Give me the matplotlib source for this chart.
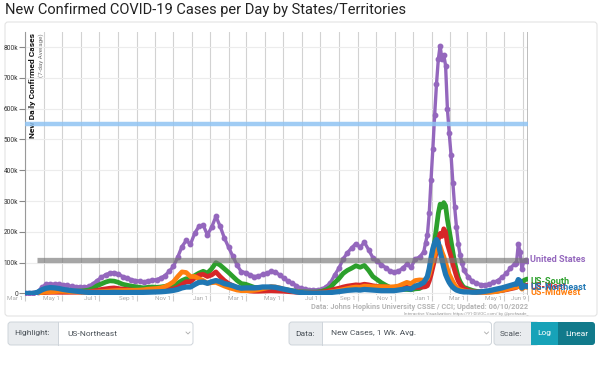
import numpy as np
import pandas as pd
import matplotlib.pyplot as plt
from matplotlib.patches import FancyBboxPatch, Rectangle
from matplotlib.transforms import ScaledTranslation

# sample dates: weekly, every 3 days around the Omicron peak and at the very end
dates = pd.DatetimeIndex(
    list(pd.date_range('2020-03-01', '2021-12-19', freq='7D'))
    + list(pd.date_range('2021-12-22', '2022-02-23', freq='3D'))
    + list(pd.date_range('2022-03-02', '2022-05-18', freq='7D'))
    + list(pd.date_range('2022-05-21', '2022-06-08', freq='3D')))

# new cases per day, 7-day average, in thousands
us = [0, 0.1, 0.8, 6, 20, 30, 31, 30, 30, 28, 26, 23, 22, 21, 21, 23, 31, 42, 52, 61,
      66, 68, 63, 55, 51, 45, 42, 40, 37, 41, 43, 45, 50, 58, 72, 88, 118, 152, 172, 160,
      195, 218, 222, 190,
      215, 250, 218, 180, 150, 120, 92, 70, 68, 60, 55, 56, 62, 65, 72, 70, 60, 50, 40, 33,
      25, 17, 15, 12, 11, 12, 14, 22, 35, 60, 82, 112, 132, 148, 162, 150, 166, 142, 116, 104,
      94, 84, 73, 70, 72, 82, 95, 85, 112, 118, 135,
      165, 190, 260, 370, 470, 580, 680, 760, 805, 760, 775, 740, 600, 520, 450, 360, 280, 215,
      160, 125, 100, 75,
      55, 40, 33, 29, 28, 30, 36, 42, 52, 65, 82, 97, 100, 160, 135, 78, 105, 110, 104]
south = [0, 0, 0.1, 1, 3, 5, 6, 6, 6, 6.5, 7, 7, 7.5, 8, 9, 11, 16, 25, 31, 37,
         41, 40, 36, 30, 27, 24, 22, 20, 18, 20, 21, 20, 21, 23, 26, 28, 33, 42, 48, 45,
         58, 66, 72, 66,
         80, 100, 92, 80, 68, 55, 42, 32, 30, 25, 20, 19, 18, 18, 18, 17, 15, 13, 11, 9,
         7, 5, 5, 4.5, 4.5, 5, 7, 12, 20, 35, 48, 65, 75, 82, 90, 85, 91, 75, 55, 45,
         35, 27, 20, 16, 14, 13, 13, 12, 15, 16, 25,
         32, 40, 60, 90, 130, 170, 215, 260, 290, 280, 295, 285, 240, 205, 170, 135, 100, 75,
         52, 38, 28, 20,
         15, 10, 7, 6, 5.5, 5.5, 6, 8, 10, 14, 19, 25, 28, 40, 38, 30, 42, 45, 47]
west = [0, 0.05, 0.2, 1, 2.5, 3.5, 3.8, 3.7, 3.8, 3.8, 3.7, 3.8, 4, 4.2, 4.5, 5.5, 7.5, 10, 13, 15,
        17, 18, 16, 14, 13, 11, 10, 9, 8, 8.5, 8.5, 9, 10, 11, 13, 15, 20, 29, 38, 38,
        50, 60, 62, 55,
        60, 70, 55, 42, 32, 25, 17, 11, 10, 8, 7, 7, 7.5, 8, 8.5, 8, 7.5, 7, 6, 5,
        4, 3, 3, 3, 3.2, 3.5, 4.5, 7, 10, 14, 17, 21, 24, 26, 28, 27, 30, 28, 25, 23,
        22, 21, 19, 18, 18, 19, 20, 17, 20, 20, 21,
        22, 25, 40, 60, 85, 110, 140, 175, 195, 185, 210, 200, 160, 140, 120, 95, 75, 55,
        40, 30, 22, 16,
        10, 7, 5, 4.5, 4.5, 5, 6, 8, 10, 12, 15, 18, 20, 40, 30, 20, 26, 27, 26]
midwest = [0, 0, 0.1, 0.8, 3, 5, 5, 6, 7, 7, 6.5, 5.5, 5, 4.5, 4.2, 4.2, 4.5, 5, 6, 7,
           8, 9, 9.5, 9.5, 9.5, 10, 10.5, 11, 12, 14, 15, 16, 18, 22, 29, 38, 55, 70, 68, 55,
           55, 48, 42, 33,
           35, 36, 30, 24, 19, 15, 11, 9, 9, 9, 10, 12, 15, 18, 22, 21, 18, 14, 11, 8,
           6, 4, 3, 2, 1.8, 1.8, 2, 3, 5, 7, 10, 13, 16, 19, 21, 20, 24, 23, 22, 22,
           22, 22, 21, 22, 24, 30, 36, 32, 42, 44, 43,
           45, 48, 62, 85, 105, 125, 140, 150, 153, 135, 120, 100, 80, 62, 50, 38, 28, 20,
           15, 12, 10, 8,
           6, 4.5, 3.5, 3.5, 3.5, 4, 5, 7, 10, 13, 17, 20, 20, 28, 22, 14, 20, 21, 20]
northeast = [0, 0.05, 0.5, 4, 12, 17, 19, 18, 16, 13, 11, 9, 7.5, 6, 4.5, 3.5, 3, 3, 3, 3,
             3.2, 3.5, 3.2, 3, 3, 3, 3, 3.2, 3.5, 4, 4.5, 5, 5.5, 6.5, 8, 10, 13, 18, 21, 21,
             29, 36, 37, 33,
             38, 42, 38, 32, 29, 25, 20, 17, 18, 18, 18, 19, 21, 21, 21, 20, 17, 14, 11, 8,
             5, 3, 2, 1.5, 1.2, 1.2, 1.5, 2, 3, 4.5, 6, 8, 10, 11, 12, 11, 13, 12, 11, 10,
             9, 9, 9, 9, 11, 13, 16, 14, 24, 28, 36,
             45, 55, 80, 115, 145, 165, 175, 165, 135, 110, 85, 62, 48, 36, 27, 20, 15, 11,
             9, 7, 6, 5,
             5, 4, 4, 5, 7, 9, 12, 15, 18, 22, 26, 30, 30, 45, 40, 18, 25, 24, 22]

names = ['United States', 'US-South', 'US-West', 'US-Midwest', 'US-Northeast']
colors = ['#9467bd', '#2ca02c', '#d62728', '#ff7f0e', '#1f77b4']
values = [us, south, west, midwest, northeast]
label_y = [110, 39, 22, 3, 19.5]   # where the end labels sit (thousands)

ref_blue = 550000
ref_gray = 110000
ref_gray_start = '2020-03-21'

start, end = pd.Timestamp('2020-03-01'), pd.Timestamp('2022-06-09')
xtick_dates = ['2020-03-01', '2020-05-01', '2020-07-01', '2020-09-01', '2020-11-01',
               '2021-01-01', '2021-03-01', '2021-05-01', '2021-07-01', '2021-09-01',
               '2021-11-01', '2022-01-01', '2022-03-01', '2022-05-01', '2022-06-09']
xtick_labels = ['Mar 1', 'May 1', 'Jul 1', 'Sep 1', 'Nov 1', 'Jan 1', 'Mar 1', 'May 1',
                'Jul 1', 'Sep 1', 'Nov 1', 'Jan 1', 'Mar 1', 'May 1', 'Jun 9']
ytick_vals = [0, 100000, 200000, 300000, 400000, 500000, 600000, 700000, 800000]
ytick_labels = ['0', '100k', '200k', '300k', '400k', '500k', '600k', '700k', '800k']

W, H = 600, 384
plt.rcParams['font.family'] = ['Roboto', 'DejaVu Sans']
fig = plt.figure(figsize=(6, 3.84), dpi=100)
fig.patch.set_facecolor('white')

# page background: title, panel, credits, controls (pixel coords)
bg = fig.add_axes([0, 0, 1, 1])
bg.set_xlim(0, W)
bg.set_ylim(H, 0)
bg.axis('off')
bg.text(5, 10, 'New Confirmed COVID-19 Cases per Day by States/Territories',
        fontsize=10.5, color='#222222', va='center', ha='left')
bg.add_patch(FancyBboxPatch((5, 22), 592, 294, boxstyle='round,pad=0,rounding_size=3',
                            fc='white', ec='#e3e3e3', lw=0.8))
bg.text(528, 307, 'Data: Johns Hopkins University CSSE / CCI; Updated: 06/10/2022',
        fontsize=5.3, fontweight='bold', color='#b4b4b4', ha='right', va='center')
bg.text(528, 313.5, 'Interactive Visualization: https://91-DIVOC.com/ by @profwade_',
        fontsize=3.2, color='#9a9a9a', ha='right', va='center')


def control(x0, x_split, x1, label, value, chevron):
    bg.add_patch(FancyBboxPatch((x0, 322), x_split - x0 + 4, 23,
                                boxstyle='round,pad=0,rounding_size=3',
                                fc='#e9ecef', ec='none'))
    bg.add_patch(Rectangle((x_split, 322), x1 - x_split, 23, fc='white', ec='none'))
    bg.add_patch(FancyBboxPatch((x0, 322), x1 - x0, 23,
                                boxstyle='round,pad=0,rounding_size=3',
                                fc='none', ec='#ced4da', lw=0.7))
    bg.plot([x_split, x_split], [322, 345], color='#ced4da', lw=0.7)
    bg.text(x0 + 6, 333.5, label, fontsize=6, color='#495057', va='center')
    bg.text(x_split + 9, 333.5, value, fontsize=6, color='#495057', va='center')
    bg.plot([chevron - 2, chevron, chevron + 2], [332, 334, 332], color='#aaaaaa', lw=0.6)


control(8, 58, 193, 'Highlight:', 'US-Northeast', 188)
control(289, 322, 491.5, 'Data:', 'New Cases, 1 Wk. Avg.', 486.5)

# scale buttons
bg.add_patch(FancyBboxPatch((494, 322), 45, 23, boxstyle='round,pad=0,rounding_size=3',
                            fc='#e9ecef', ec='#ced4da', lw=0.7))
bg.add_patch(FancyBboxPatch((550, 322), 45, 23, boxstyle='round,pad=0,rounding_size=3',
                            fc='#117a8b', ec='none'))
bg.add_patch(Rectangle((531, 322), 27, 23, fc='#17a2b8', ec='none'))
bg.text(500, 333.5, 'Scale:', fontsize=6, color='#495057', va='center')
bg.text(544.5, 333.5, 'Log', fontsize=6, color='white', va='center', ha='center')
bg.text(576.5, 333.5, 'Linear', fontsize=6, color='white', va='center', ha='center')

# chart
ax = fig.add_axes([25 / W, 1 - 295.3 / H, 503 / W, 263 / H])
ax.set_facecolor('none')

ax.plot(dates, np.array(us) * 1000, color=colors[0], lw=2.4, marker='o', ms=3.2,
        zorder=3)
for name, vals, col in zip(names[1:], values[1:], colors[1:]):
    lw = 3.8 if name == 'US-Northeast' else 3.4
    ax.plot(dates, np.array(vals) * 1000, color=col, lw=lw, zorder=5 if lw > 3.5 else 4,
            solid_capstyle='round', solid_joinstyle='round')

ax.axhline(ref_blue, color='#90c4f3', lw=3.2, alpha=0.85, zorder=6)
ax.hlines(ref_gray, pd.Timestamp(ref_gray_start), end, color='#777777', lw=3.8,
          alpha=0.65, zorder=6)
ax.axvline(end, color='#aaaaaa', lw=1.8, zorder=2)

ax.set_xlim(start, end)
ax.set_ylim(-6000, 848000)
ax.set_xticks(pd.to_datetime(xtick_dates))
ax.set_xticklabels(xtick_labels)
ax.set_xticks(pd.date_range('2020-03-01', '2022-06-01', freq='MS'), minor=True)
ax.set_yticks(ytick_vals)
ax.set_yticklabels(ytick_labels)
ax.grid(which='both', axis='x', color='#d2d2d2', lw=0.8, zorder=1)
ax.grid(which='major', axis='y', color='#ececec', lw=0.8, zorder=1)
ax.tick_params(axis='x', which='major', length=4.5, color='#cccccc', labelsize=4.5,
               labelcolor='#aaaaaa', pad=-4.2)
ax.tick_params(axis='x', which='minor', length=0)
ax.tick_params(axis='y', length=4, color='#888888', labelsize=4.7, labelcolor='#333333',
               pad=1)
for lbl in ax.get_xticklabels():
    lbl.set_horizontalalignment('right')
    lbl.set_transform(lbl.get_transform() + ScaledTranslation(-2 / 100, 0, fig.dpi_scale_trans))
for s in ['top', 'right', 'bottom']:
    ax.spines[s].set_visible(False)
ax.spines['left'].set_color('#999999')
ax.spines['left'].set_linewidth(0.8)

# axis title inside the chart
bg.text(32.3, 33, 'New Daily Confirmed Cases', rotation=90, fontsize=6.1,
        fontweight='bold', color='#111111', ha='center', va='top')
bg.text(40.7, 33, '(7-day Average)', rotation=90, fontsize=4.5, color='#777777',
        ha='center', va='top')

# end labels (US-West sits under US-Northeast, as in the original)
for name, col, ly in zip(names, colors, label_y):
    ax.text(1.004, ly * 1000, name, transform=ax.get_yaxis_transform(), fontsize=6.6,
            fontweight='bold', color=col, va='center', ha='left',
            zorder=5 if name == 'US-West' else 7)

fig.savefig('out.png', dpi=100)
